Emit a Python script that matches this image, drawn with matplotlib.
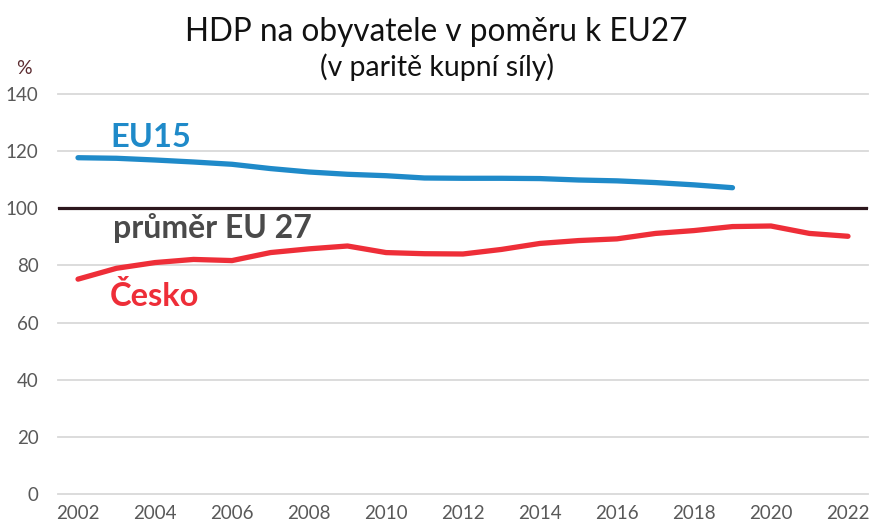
import matplotlib
matplotlib.use("Agg")
import matplotlib.pyplot as plt

# values (% of EU27 average, PPS)
years = list(range(2002, 2023))
eu15_years = list(range(2002, 2020))
eu15 = [117.7, 117.5, 116.9, 116.2, 115.4, 113.9, 112.7, 111.9, 111.4, 110.6,
        110.5, 110.5, 110.4, 109.9, 109.6, 109.0, 108.2, 107.2]
cesko = [75.2, 79.0, 81.0, 82.1, 81.7, 84.5, 85.8, 86.8, 84.5, 84.1, 84.0,
         85.6, 87.7, 88.7, 89.3, 91.2, 92.2, 93.6, 93.8, 91.2, 90.2]
eu27_avg = 100
y_ticks = [0, 20, 40, 60, 80, 100, 120, 140]
x_ticks = list(range(2002, 2023, 2))

plt.rcParams['font.family'] = ['Lato', 'DejaVu Sans']

fig = plt.figure(figsize=(8.73, 5.26), dpi=100)
ax = fig.add_axes([58 / 873, 1 - 494 / 526, 810 / 873, 400 / 526])

ax.plot(eu15_years, eu15, color='#1f8ac9', linewidth=3.8, solid_capstyle='round', zorder=3)
ax.plot(years, cesko, color='#ee2e38', linewidth=3.8, solid_capstyle='round', zorder=3)
ax.axhline(eu27_avg, color='#2d171d', linewidth=2.3, zorder=2)

ax.set_xlim(2001.48, 2022.52)
ax.set_ylim(0, 140)
ax.set_yticks(y_ticks)
ax.set_xticks(x_ticks)
ax.grid(axis='y', color='#d9d9d9', linewidth=1.3)
for gl in ax.get_ygridlines():
    gl.set_clip_on(False)
ax.set_axisbelow(True)
for s in ax.spines.values():
    s.set_visible(False)
ax.tick_params(length=0, colors='#595959', labelsize=13.5)
ax.tick_params(axis='y', pad=14)
ax.tick_params(axis='x', pad=8)

# series labels
ax.text(2002.83, 121.6, 'EU15', color='#1f8ac9', fontsize=23.5, fontweight='bold', va='baseline')
ax.text(2002.91, 89.7, 'průměr EU 27', color='#4a4a4a', fontsize=23, fontweight='bold', va='baseline')
ax.text(2002.83, 65.8, 'Česko', color='#ee2e38', fontsize=23.5, fontweight='bold', va='baseline')

fig.text(0.5, 1 - 32 / 526, 'HDP na obyvatele v poměru k EU27',
         ha='center', va='center', fontsize=22.7, color='#111111')
fig.text(0.5, 1 - 67 / 526, '(v paritě kupní síly)',
         ha='center', va='center', fontsize=20.4, color='#111111')
fig.text(24 / 873, 1 - 68 / 526, '%', ha='center', va='center',
         fontsize=14, color='#5b2b30')

fig.savefig('out.png', dpi=100)
